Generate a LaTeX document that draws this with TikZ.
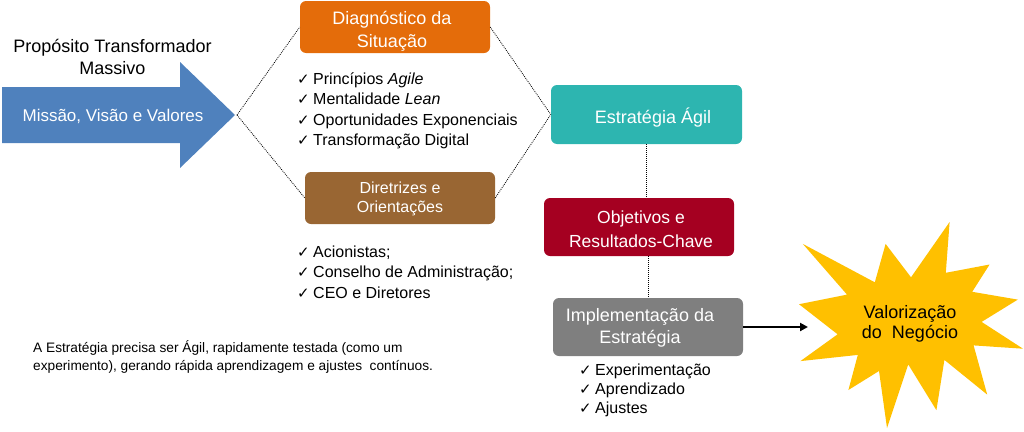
\documentclass[tikz,border=0pt]{standalone}
\usepackage{fontspec}
\setmainfont{Liberation Sans}
\newfontfamily\dejavu{DejaVu Sans}
\usetikzlibrary{arrows.meta,calc}
\definecolor{cblue}{HTML}{4F81BD}
\definecolor{corange}{HTML}{E46C0A}
\definecolor{cbrown}{HTML}{996633}
\definecolor{cteal}{HTML}{2DB5B0}
\definecolor{ccrimson}{HTML}{A50021}
\definecolor{cgray}{HTML}{7F7F7F}
\definecolor{cyellow}{HTML}{FFC000}
\newcommand\ckm{\makebox[16pt][l]{\dejavu\fontsize{15}{15}\selectfont ✓}}
\newcommand\fsz[2]{\fontsize{#1}{#2}\selectfont}
\begin{document}
\begin{tikzpicture}[x=1pt,y=-1pt,
  box/.style n args={3}{fill=#1,minimum width=#2,minimum height=#3,rounded corners=6pt,inner sep=0pt,draw=none},
  lbl/.style={text=white,align=center,inner sep=0pt},
  item/.style={anchor=base west,inner sep=0pt,font=\fsz{16}{19}},
  dotline/.style={draw=black,line width=0.8pt,dash pattern=on 0.9pt off 1.1pt},
  flow/.style={draw=black,line width=2pt,-{Triangle[length=8pt,width=8pt]}}]
\useasboundingbox (0,0) rectangle (1024,431);

% big blue arrow
\fill[cblue] (2,87) -- (180,87) -- (180,62) -- (235,115) -- (180,168) -- (180,143) -- (2,143) -- cycle;
\coordinate (tip) at (237,115);
\node[lbl,font=\fsz{17}{20}] (mvv) at (113,116) {Missão, Visão e Valores};
\node[align=center,inner sep=0pt,font=\fsz{18}{22}] (ptm) at (112.5,56.5) {Propósito Transformador\\Massivo};

% boxes
\node[box={corange}{190pt}{52pt}] (diag) at (395,27) {};
\node[lbl,font=\fsz{18}{23}] (diagT) at (392,31) {Diagnóstico da\\Situação};
\node[box={cbrown}{190pt}{52pt}] (dir) at (400,198) {};
\node[lbl,font=\fsz{16}{19.5}] (dirT) at (400,199) {Diretrizes e\\Orientações};
\node[box={cteal}{191pt}{59pt}] (est) at (646.5,114.5) {};
\node[lbl,font=\fsz{18}{22}] (estT) at (653,117.5) {Estratégia Ágil};
\node[box={ccrimson}{190pt}{58pt}] (obj) at (639,227) {};
\node[lbl,font=\fsz{17.5}{24}] (objT) at (641,229.5) {Objetivos e\\Resultados-Chave};
\node[box={cgray}{190pt}{58pt}] (impl) at (648,327) {};
\node[lbl,font=\fsz{18}{22}] (implT) at (640,327.5) {Implementação da\\Estratégia};

% star
\fill[cyellow] (911.0,277.3) -- (949.6,222) -- (945.8,272.8) -- (989.6,264.5) -- (972.2,291.8)
  -- (1017.8,299.6) -- (981.6,321.9) -- (1023,348.7) -- (973.6,345.4) -- (987.2,394.6)
  -- (944.4,359.9) -- (936.4,410.2) -- (908.2,364.4) -- (887.0,428) -- (879.0,371.0)
  -- (848.4,390.0) -- (857.8,354.9) -- (800.4,361.1) -- (837.6,334.3) -- (799,304.2)
  -- (847.0,294.6) -- (802.8,243.9) -- (874.8,282.3) -- (885.6,243.9) -- cycle;
\node[align=center,inner sep=0pt,font=\fsz{18}{20}] (starT) at (910,324) {Valorização\\do~ Negócio};
\coordinate (startip) at (808,327);

% check lists
\foreach \t [count=\i] in {{Princípios \textit{Agile}},{Mentalidade \textit{Lean}},{Oportunidades Exponenciais},{Transformação Digital}}
  \node[item] (la\i) at (297,{84.3+20.5*(\i-1)}) {\ckm\t};
\foreach \t [count=\i] in {{Acionistas;},{Conselho de Administração;},{CEO e Diretores}}
  \node[item] (lb\i) at (297,{257.3+20.5*(\i-1)}) {\ckm\t};
\foreach \t [count=\i] in {{Experimentação},{Aprendizado},{Ajustes}}
  \node[item] (lc\i) at (579,{375.3+19*(\i-1)}) {\ckm\t};

% note
\node[anchor=west,align=left,inner sep=0pt,font=\fsz{13.7}{18}] (note) at (33,357)
  {A Estratégia precisa ser Ágil, rapidamente testada (como um\\experimento), gerando rápida aprendizagem e ajustes~ contínuos.};

% connectors
\draw[dotline] (tip) -- (diag.west);
\draw[dotline] (tip) -- (dir.west);
\draw[dotline] (diag.east) -- (est.west);
\draw[dotline] (dir.east) -- (est.west);
\draw[dotline] (est.south) -- (est.south |- obj.north);
\draw[dotline] (impl.north |- obj.south) -- (impl.north);
\draw[flow] (impl.east) -- (startip);
\end{tikzpicture}
\end{document}
